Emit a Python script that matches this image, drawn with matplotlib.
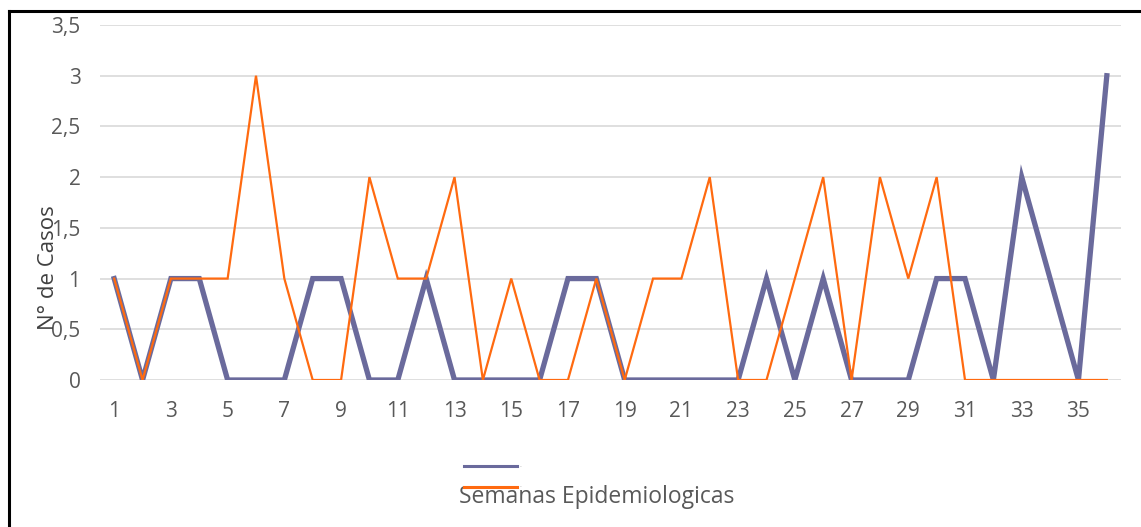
"""
Casos por semana epidemiologica: dos series de linea estilo Excel.
"""
import matplotlib
matplotlib.use('Agg')
import matplotlib.pyplot as plt
from matplotlib.lines import Line2D

# semanas epidemiologicas 1..36
semanas = list(range(1, 37))

# serie 1 (morada, gruesa)
serie_morada = [1, 0, 1, 1, 0, 0, 0, 1, 1, 0, 0, 1, 0, 0, 0, 0, 1, 1,
                0, 0, 0, 0, 0, 1, 0, 1, 0, 0, 0, 1, 1, 0, 2, 1, 0, 3]

# serie 2 (naranja, delgada)
serie_naranja = [1, 0, 1, 1, 1, 3, 1, 0, 0, 2, 1, 1, 2, 0, 1, 0, 0, 1,
                 0, 1, 1, 2, 0, 0, 1, 2, 0, 2, 1, 2, 0, 0, 0, 0, 0, 0]

y_ticks = [0, 0.5, 1, 1.5, 2, 2.5, 3, 3.5]
y_tick_labels = ['0', '0,5', '1', '1,5', '2', '2,5', '3', '3,5']
x_ticks = list(range(1, 37, 2))

MORADO = '#6A6A9C'
NARANJA = '#FF6A10'
GRIS = '#595959'


def plot_casos():
    plt.rcParams['font.family'] = ['Open Sans', 'DejaVu Sans']

    fig = plt.figure(figsize=(11.41, 5.27), dpi=100)
    ax = fig.add_axes([100 / 1141, 1 - 380 / 527, 1021 / 1141, 355 / 527])

    l1, = ax.plot(semanas, serie_morada, '-', color=MORADO, lw=3.8,
                  solid_joinstyle='miter', zorder=3)
    l2, = ax.plot(semanas, serie_naranja, '-', color=NARANJA, lw=1.6,
                  solid_joinstyle='miter', zorder=4)

    ax.set_xlim((0.5, 36.5))
    ax.set_ylim((0, 3.5))
    ax.set_yticks(y_ticks)
    ax.set_yticklabels(y_tick_labels)
    ax.set_xticks(x_ticks)
    ax.tick_params(axis='both', length=0, labelsize=15, colors=GRIS)
    ax.tick_params(axis='y', pad=14)
    ax.tick_params(axis='x', pad=15)
    ax.yaxis.grid(True, color='#D9D9D9', lw=1.2)
    ax.set_axisbelow(True)
    for s in ax.spines.values():
        s.set_visible(False)

    fig.text(49 / 1141, 1 - 268 / 527, 'N° de Casos', rotation=90,
             ha='center', va='center', fontsize=16, color='#404040')
    fig.text(597 / 1141, 1 - 497 / 527, 'Semanas Epidemiologicas',
             ha='center', va='center', fontsize=16.5, color=GRIS)

    leg = fig.legend((l1, l2), ('-', '-'), loc='center',
                     bbox_to_anchor=(493 / 1141, 1 - 477 / 527),
                     frameon=False, fontsize=4, handlelength=9.5,
                     handletextpad=0.5, labelspacing=2.8)
    for t in leg.get_texts():
        t.set_color('#A0A0A0')
    for h in leg.legend_handles:
        h.set_linewidth(2.2)

    # marco de la imagen (solo izquierda y arriba visibles)
    fig.add_artist(Line2D([9 / 1141, 9 / 1141], [0, 1 - 11 / 527],
                          color='black', lw=2.2, transform=fig.transFigure))
    fig.add_artist(Line2D([9 / 1141, 1], [1 - 11 / 527, 1 - 11 / 527],
                          color='black', lw=2.2, transform=fig.transFigure))

    fig.savefig('out.png', dpi=100)


if __name__ == '__main__':
    plot_casos()
